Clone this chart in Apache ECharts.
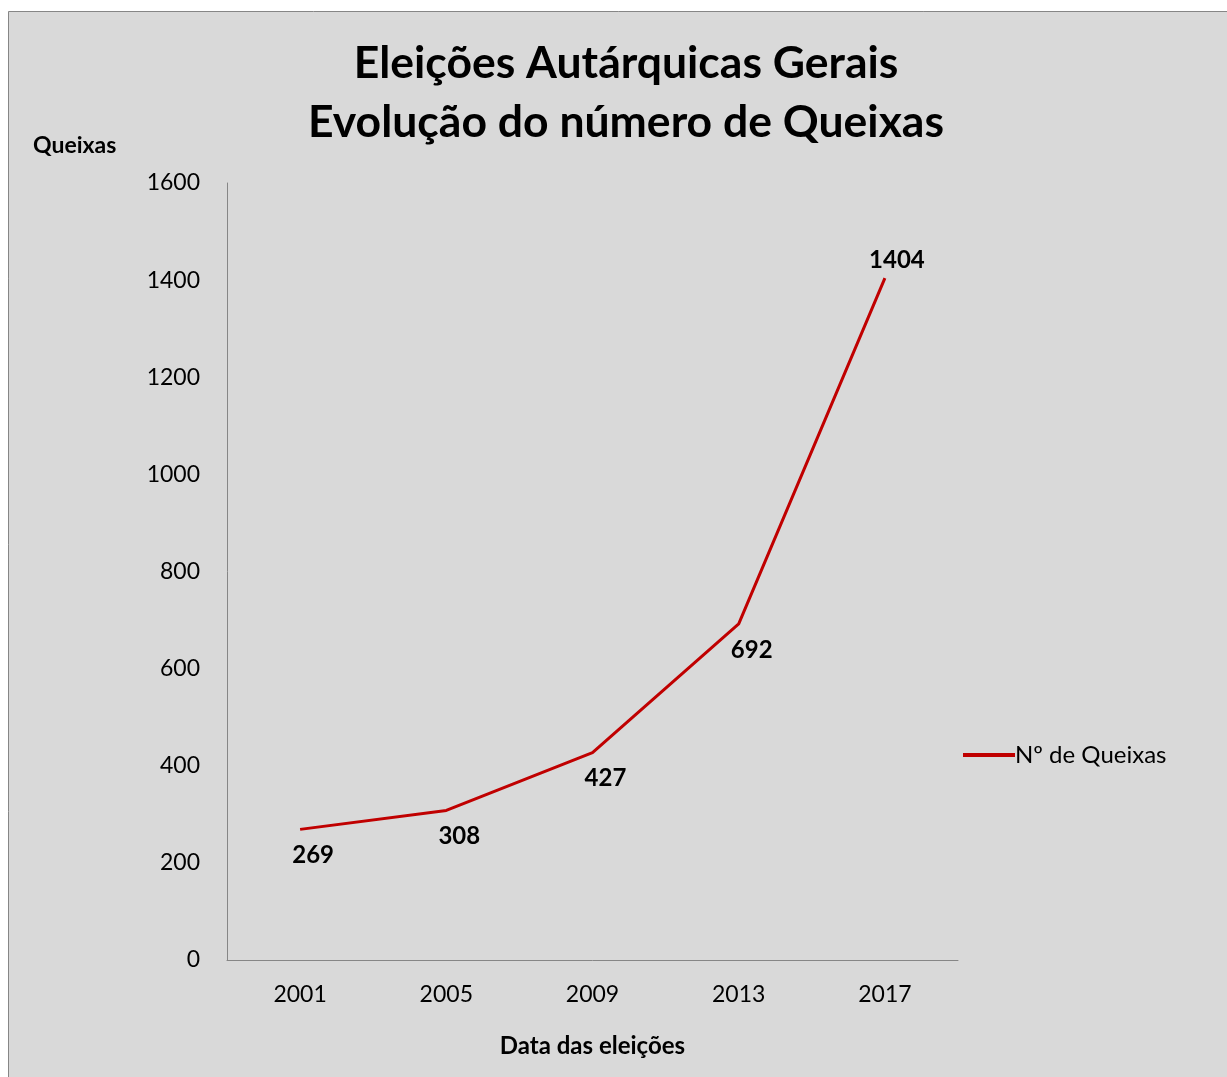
<!DOCTYPE html>
<html>
<head>
<meta charset="utf-8">
<script src="https://cdn.jsdelivr.net/npm/echarts@6/dist/echarts.min.js"></script>
<style>
html,body{margin:0;padding:0;background:#fff;}
#c{width:1227px;height:1077px;}
</style>
</head>
<body>
<div id="c"></div>
<script>
const years = ['2001', '2005', '2009', '2013', '2017'];
const queixas = [269, 308, 427, 692, 1404];
const seriesName = 'Nº de Queixas';
const titleLines = ['Eleições Autárquicas Gerais', 'Evolução do número de Queixas'];

const FONT = 'Lato, "Open Sans", sans-serif';
const chart = echarts.init(document.getElementById('c'));
const lastIdx = queixas.length - 1;
const seriesData = queixas.map((v, i) => ({
  value: v,
  label: i === lastIdx ? { position: 'top', distance: 6, offset: [12, 0] } : { position: 'bottom', distance: 14, offset: [13, 0] }
}));

chart.setOption({
  backgroundColor: '#ffffff',
  animation: false,
  graphic: [{
    type: 'rect', z: -10, silent: true,
    shape: { x: 8.5, y: 11.5, width: 1240, height: 1090 },
    style: { fill: '#d9d9d9', stroke: '#868686', lineWidth: 1 }
  }],
  title: {
    text: titleLines.join('\n'),
    left: 621, top: 29, textAlign: 'center',
    textStyle: { fontFamily: FONT, fontSize: 44.5, fontWeight: 'bold', color: '#000', lineHeight: 59 }
  },
  legend: {
    left: 958, top: 738,
    itemWidth: 52, itemHeight: 4,
    icon: 'rect',
    itemStyle: { color: '#c00000', opacity: 1 },
    data: [{ name: seriesName }],
    textStyle: { fontFamily: FONT, fontSize: 24, color: '#000', padding: [0, 0, 0, -5] }
  },
  grid: { left: 227, right: 269, top: 183, bottom: 117, containLabel: false },
  xAxis: {
    type: 'category', data: years, boundaryGap: true,
    name: 'Data das eleições', nameLocation: 'middle', nameGap: 74,
    nameTextStyle: { fontFamily: FONT, fontSize: 24, fontWeight: 'bold', color: '#000' },
    axisLine: { lineStyle: { color: '#868686', width: 1 } },
    axisTick: { show: false },
    axisLabel: { fontFamily: FONT, fontSize: 23, color: '#000', margin: 23 }
  },
  yAxis: {
    type: 'value', min: 0, max: 1600, interval: 200,
    name: 'Queixas', nameLocation: 'end', nameGap: 26,
    nameTextStyle: { fontFamily: FONT, fontSize: 23, fontWeight: 'bold', color: '#000', align: 'left', padding: [0, 0, 0, -194] },
    axisLine: { show: true, lineStyle: { color: '#868686', width: 1 } },
    axisTick: { show: false },
    splitLine: { show: false },
    axisLabel: { fontFamily: FONT, fontSize: 23, color: '#000', margin: 27, formatter: v => String(v) }
  },
  series: [{
    name: seriesName, type: 'line', data: seriesData,
    symbol: 'circle', symbolSize: 0.01, showSymbol: true,
    lineStyle: { color: '#c00000', width: 3 },
    itemStyle: { color: '#c00000' },
    label: { show: true, fontFamily: FONT, fontSize: 24, fontWeight: 'bold', color: '#000' }
  }]
});
</script>
</body>
</html>
